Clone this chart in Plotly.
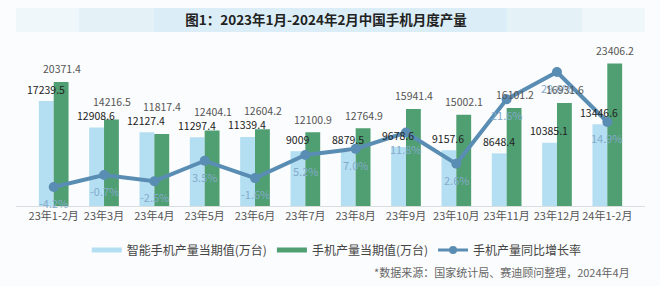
import plotly.graph_objects as go

categories = ["23年1-2月", "23年3月", "23年4月", "23年5月", "23年6月", "23年7月",
              "23年8月", "23年9月", "23年10月", "23年11月", "23年12月", "24年1-2月"]
smart_output = [17239.5, 12908.6, 12127.4, 11297.4, 11339.4, 9009,
                8879.5, 9678.6, 9157.6, 8648.4, 10385.1, 13446.6]
total_output = [20371.4, 14216.5, 11817.4, 12404.1, 12604.2, 12100.9,
                12764.9, 15941.4, 15002.1, 16101.2, 16931.6, 23406.2]
growth_rate = [-4.2, -0.7, -2.5, 3.5, -1.6, 5.2, 7.0, 11.8, 2.6, 21.6, 29.6, 14.9]

C_SMART = "#b4dff2"
C_TOTAL = "#4f9f72"
C_LINE = "#5a8db3"
FONT = "Noto Sans CJK SC"

W, H = 660, 286
M = dict(l=16, r=15, t=55, b=80)
Y_MAX = 24800
plot_h = H - M["t"] - M["b"]
px_per_unit = plot_h / Y_MAX

fig = go.Figure()
fig.add_trace(go.Bar(
    x=categories, y=smart_output, name="智能手机产量当期值(万台)",
    marker=dict(color=C_SMART, line=dict(width=0)), showlegend=False,
))
fig.add_trace(go.Bar(
    x=categories, y=total_output, name="手机产量当期值(万台)",
    marker=dict(color=C_TOTAL, line=dict(width=0)), showlegend=False,
))
fig.add_trace(go.Scatter(
    x=categories, y=growth_rate, yaxis="y2", name="手机产量同比增长率",
    mode="lines+markers",
    line=dict(color=C_LINE, width=4),
    marker=dict(size=10, color=C_LINE),
    showlegend=False,
))
# growth labels below markers
for c, g in zip(categories, growth_rate):
    fig.add_annotation(x=c, y=g, xref="x", yref="y2", text=f"{g:.1f}%", showarrow=False,
                       yshift=-16, yanchor="middle",
                       font=dict(size=11, color="#84aacb", family=FONT))

# legend entries
fig.add_trace(go.Scatter(x=[None], y=[None], mode="lines", name="智能手机产量当期值(万台)",
                         line=dict(color=C_SMART, width=5)))
fig.add_trace(go.Scatter(x=[None], y=[None], mode="lines", name="手机产量当期值(万台)",
                         line=dict(color=C_TOTAL, width=5)))
fig.add_trace(go.Scatter(x=[None], y=[None], mode="lines+markers", name="手机产量同比增长率",
                         line=dict(color=C_LINE, width=3), marker=dict(size=8, color=C_LINE)))

# bar value labels (label centres placed above bar tops, total label kept clear of smart label)
for c, s, t in zip(categories, smart_output, total_output):
    s_h = s * px_per_unit
    t_h = t * px_per_unit
    s_shift = 12
    t_shift = max(13, s_h + s_shift + 14 - t_h)
    fig.add_annotation(x=c, y=s, xref="x", yref="y", text=f"{s:g}", showarrow=False,
                       xshift=-8, yshift=s_shift, yanchor="middle",
                       font=dict(size=10.5, color="#222222", family=FONT))
    fig.add_annotation(x=c, y=t, xref="x", yref="y", text=f"{t:g}", showarrow=False,
                       xshift=8, yshift=t_shift, yanchor="middle",
                       font=dict(size=10.5, color="#555555", family=FONT))

# title band
fig.add_shape(type="rect", xref="paper", yref="paper", x0=0.0, x1=1.0, y0=1.152, y1=1.311,
              fillcolor="rgba(215,236,247,0.3)", line=dict(width=0), layer="below")
fig.add_shape(type="rect", xref="paper", yref="paper", x0=0.1, x1=0.9, y0=1.152, y1=1.311,
              fillcolor="rgba(210,234,246,0.4)", line=dict(width=0), layer="below")
fig.add_shape(type="rect", xref="paper", yref="paper", x0=0.22, x1=0.78, y0=1.152, y1=1.311,
              fillcolor="rgba(205,232,246,0.4)", line=dict(width=0), layer="below")

fig.add_annotation(text="*数据来源：国家统计局、赛迪顾问整理，2024年4月",
                   xref="paper", yref="paper", x=0.979, y=-0.437, xanchor="right", yanchor="middle",
                   showarrow=False, font=dict(size=11, color="#666666", family=FONT))

fig.update_layout(
    width=W, height=H,
    margin=M,
    paper_bgcolor="#fbfcfd", plot_bgcolor="rgba(0,0,0,0)",
    barmode="group", bargap=0.41, bargroupgap=0,
    font=dict(family=FONT, color="#444444"),
    title=dict(text="<b>图1：2023年1月-2024年2月中国手机月度产量</b>",
               x=0.494, xanchor="center", y=1 - 20 / 286, yanchor="middle",
               font=dict(size=13.5, color="#222222", family=FONT)),
    xaxis=dict(showgrid=False, showline=True, linecolor="#d8dde0", linewidth=1,
               ticks="", tickangle=0, tickfont=dict(size=11, color="#555555", family=FONT)),
    yaxis=dict(range=[0, Y_MAX], visible=False, showgrid=False),
    yaxis2=dict(range=[-9.8, 34.6], overlaying="y", visible=False, showgrid=False),
    legend=dict(orientation="h", x=0.51, xanchor="center", y=-0.291, yanchor="middle",
                font=dict(size=12, color="#444444", family=FONT),
                bgcolor="rgba(0,0,0,0)", itemwidth=30),
)

fig.write_html("out.html")
